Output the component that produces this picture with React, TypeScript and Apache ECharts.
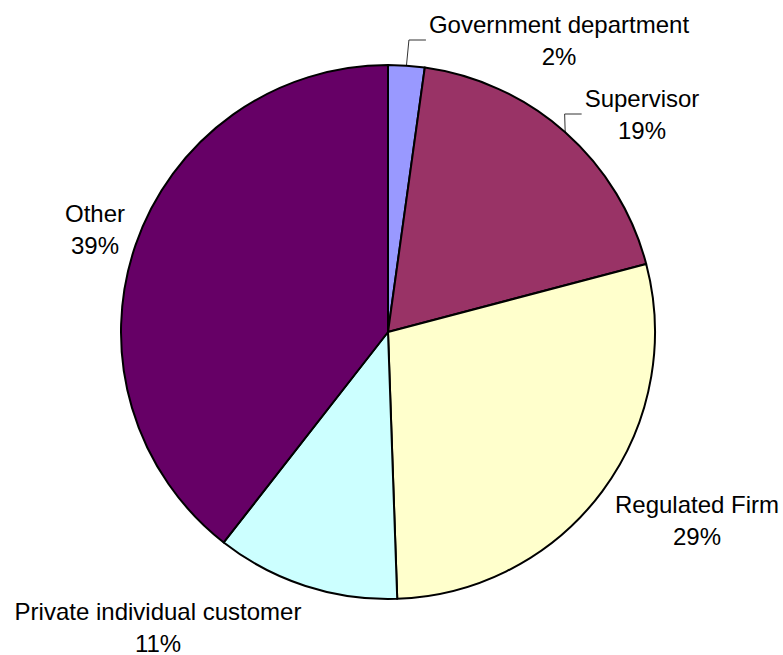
import React, { useEffect, useRef } from "react";
import * as echarts from "echarts";

const categories = [
  "Government department",
  "Supervisor",
  "Regulated Firm",
  "Private individual customer",
  "Other",
];
const values = [2.2, 18.7, 28.55, 11.1, 39.45];
const colors = ["#9999FF", "#993366", "#FFFFCC", "#CCFFFF", "#660066"];
// label centre positions (layout only)
const labelCenters: number[][] = [
  [559, 40],
  [642, 114],
  [697, 520],
  [158, 627],
  [95, 229],
];
const withLeader = [true, true, false, false, false];

export default function App() {
  const ref = useRef<HTMLDivElement>(null);
  useEffect(() => {
    if (!ref.current) return;
    const chart = echarts.init(ref.current, undefined, { renderer: "svg" });
    chart.setOption({
      animation: false,
      backgroundColor: "#ffffff",
      series: [
        {
          type: "pie",
          center: [388, 332],
          radius: 267,
          startAngle: 90,
          clockwise: true,
          avoidLabelOverlap: false,
          percentPrecision: 0,
          emphasis: { disabled: true },
          itemStyle: { borderColor: "#000000", borderWidth: 2 },
          label: {
            show: true,
            position: "outside",
            formatter: "{b}\n{d}%",
            fontFamily: "Liberation Sans, Arial, sans-serif",
            fontSize: 24,
            lineHeight: 32,
            color: "#000000",
            align: "center",
          },
          labelLine: {
            show: true,
            lineStyle: { color: "#333333", width: 1 },
          },
          labelLayout: (params: any) => {
            const i = params.dataIndex;
            const [cx, cy] = labelCenters[i];
            const w = params.labelRect.width;
            const out: any = {
              x: cx,
              y: cy,
              align: "center",
              verticalAlign: "middle",
            };
            if (withLeader[i] && params.labelLinePoints) {
              const p0 = params.labelLinePoints[0];
              const left = cx - w / 2 - 3;
              out.labelLinePoints = [
                [p0[0], p0[1]],
                [left - 17, cy],
                [left, cy],
              ];
            } else {
              out.labelLinePoints = [
                [cx, cy],
                [cx, cy],
                [cx, cy],
              ];
            }
            return out;
          },
          data: categories.map((name, i) => ({
            name,
            value: values[i],
            itemStyle: { color: colors[i] },
            labelLine: { show: withLeader[i] },
          })),
        },
      ],
    });
    return () => chart.dispose();
  }, []);
  return (
    <div
      ref={ref}
      style={{ position: "absolute", left: 0, top: 0, width: 783, height: 655 }}
    />
  );
}
